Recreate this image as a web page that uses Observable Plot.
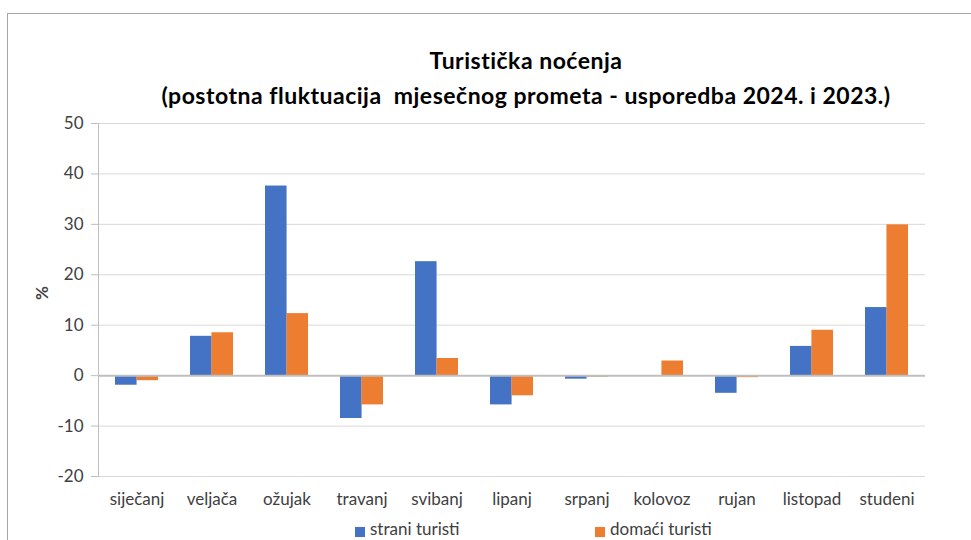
<!DOCTYPE html>
<html>
<head>
<meta charset="utf-8">
<script src="https://cdn.jsdelivr.net/npm/d3@7"></script>
<script src="https://cdn.jsdelivr.net/npm/@observablehq/plot@0.6"></script>
<style>
  html, body { margin: 0; padding: 0; background: #fff; }
  #wrap { position: relative; width: 971px; height: 540px; overflow: hidden; font-family: Lato, sans-serif; }
  #border { position: absolute; left: 7px; top: 13px; width: 1000px; height: 600px; border-top: 1px solid #a6a6a6; border-left: 1px solid #a6a6a6; }
  .title { position: absolute; left: 0; width: 1052px; text-align: center; font-weight: bold; font-size: 23px; letter-spacing: 0.5px; line-height: 1.2; color: #000; white-space: pre; }
  #chart { position: absolute; left: 0; top: 110px; }
  .leg { position: absolute; top: 519px; font-size: 17px; line-height: 1.2; color: #404040; white-space: nowrap; }
  .sw { position: absolute; top: 527px; width: 10px; height: 10px; }
</style>
</head>
<body>
<div id="wrap">
  <div id="border"></div>
  <div class="title" id="t1" style="top:47px"></div>
  <div class="title" id="t2" style="top:82px"></div>
  <div id="chart"></div>
  <div class="sw" id="sw1" style="left:355px"></div>
  <div class="leg" id="l1" style="left:370px"></div>
  <div class="sw" id="sw2" style="left:595px"></div>
  <div class="leg" id="l2" style="left:610px"></div>
</div>
<script>
const titleLine1 = "Turistička noćenja";
const titleLine2 = "(postotna fluktuacija  mjesečnog prometa - usporedba 2024. i 2023.)";
const months = ["siječanj","veljača","ožujak","travanj","svibanj","lipanj","srpanj","kolovoz","rujan","listopad","studeni"];
const seriesNames = ["strani turisti", "domaći turisti"];
const colors = ["#4472C4", "#ED7D31"];
const strani = [-1.9, 7.8, 37.6, -8.5, 22.6, -5.8, -0.7, 0, -3.5, 5.8, 13.5];
const domaci = [-1.0, 8.5, 12.3, -5.8, 3.4, -4.0, -0.3, 2.9, -0.4, 9.0, 29.9];
const yTicks = [-20, -10, 0, 10, 20, 30, 40, 50];
const yLabel = "%";

document.getElementById("t1").textContent = titleLine1;
document.getElementById("t2").textContent = titleLine2;
document.getElementById("l1").textContent = seriesNames[0];
document.getElementById("l2").textContent = seriesNames[1];
document.getElementById("sw1").style.background = colors[0];
document.getElementById("sw2").style.background = colors[1];

const W = 971, ML = 98, MR = 46;
const padInner = 0.43;
const step = (W - ML - MR) / months.length;
const half = step * (1 - padInner) / 2;

const dataS = months.map((m, i) => ({month: m, value: strani[i]}));
const dataD = months.map((m, i) => ({month: m, value: domaci[i]}));

const chart = Plot.plot({
  width: W, height: 410,
  marginLeft: ML, marginRight: MR, marginTop: 13, marginBottom: 44,
  style: {fontFamily: "Lato, sans-serif", fontSize: "17px", color: "#404040", background: "transparent"},
  x: {domain: months, paddingInner: padInner, paddingOuter: padInner / 2, label: null},
  y: {domain: [-20, 50], label: null},
  marks: [
    Plot.ruleY(yTicks.filter(d => d !== 0), {stroke: "#d9d9d9", strokeWidth: 1}),
    Plot.frame({anchor: "left", stroke: "#bfbfbf"}),
    Plot.axisY({ticks: yTicks, tickFormat: d => String(d), tickSize: 7, tickPadding: 8, stroke: "#bfbfbf", fill: "#404040", label: null, fontSize: 17}),
    Plot.axisX({tickSize: 0, tickPadding: 16, label: null, fill: "#404040", fontSize: 17}),
    Plot.barY(dataS, {x: "month", y: "value", fill: colors[0], insetRight: half}),
    Plot.barY(dataD, {x: "month", y: "value", fill: colors[1], insetLeft: half}),
    Plot.ruleY([0], {stroke: "#bfbfbf", strokeWidth: 2}),
    Plot.text([yLabel], {frameAnchor: "left", dx: -56, rotate: -90, fontWeight: "bold", fontSize: 17, fill: "#404040"})
  ]
});
document.getElementById("chart").appendChild(chart);
</script>
</body>
</html>
